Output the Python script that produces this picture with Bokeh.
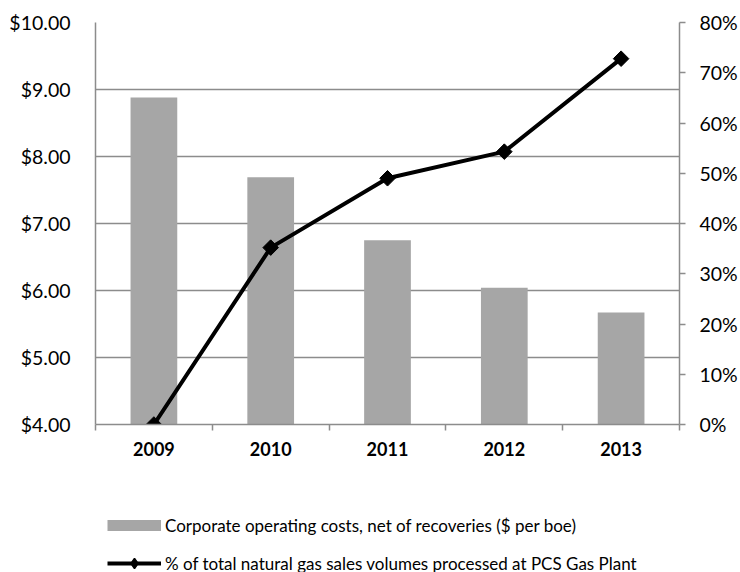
import numpy as np
from bokeh.plotting import figure
from bokeh.layouts import column
from bokeh.models import (Range1d, LinearAxis, FixedTicker, NumeralTickFormatter, Grid,
                          PrintfTickFormatter, Legend, LegendItem, ColumnDataSource)
from bokeh.embed import file_html
from bokeh.resources import INLINE

years = ["2009", "2010", "2011", "2012", "2013"]
costs = [8.88, 7.69, 6.75, 6.04, 5.67]
pct_processed = [0.0, 35.2, 49.0, 54.3, 72.8]
cost_ticks = [4, 5, 6, 7, 8, 9, 10]
pct_ticks = [0, 10, 20, 30, 40, 50, 60, 70, 80]
series_names = ["Corporate operating costs, net of recoveries ($ per boe)",
                "% of total natural gas sales volumes processed at PCS Gas Plant"]

GRAY = "#8c8c8c"
BAR = "#a6a6a6"
FONT = "Lato"

xpos = [i + 0.5 for i in range(len(years))]
src = ColumnDataSource(dict(x=xpos, year=years, cost=costs, pct=pct_processed))

p = figure(output_backend="svg", toolbar_location=None,
           frame_width=584, frame_height=402,
           min_border_left=95, min_border_right=58, min_border_top=22, min_border_bottom=50,
           x_range=Range1d(0, len(years)), y_range=Range1d(cost_ticks[0], cost_ticks[-1]),
           x_axis_type=None, y_axis_type=None)
p.outline_line_color = None
p.background_fill_color = "white"
p.border_fill_color = "white"
p.extra_y_ranges = {"pct": Range1d(pct_ticks[0], pct_ticks[-1])}

# left axis
yax = LinearAxis(ticker=FixedTicker(ticks=cost_ticks),
                 formatter=NumeralTickFormatter(format="$0.00"))
yax.axis_line_color = GRAY
yax.axis_line_width = 1.5
yax.major_tick_out = 0
yax.major_tick_in = 0
yax.minor_tick_line_color = None
yax.major_label_standoff = 25
yax.major_label_text_font = FONT
yax.major_label_text_font_size = "19.5px"
yax.major_label_text_color = "black"
p.add_layout(yax, "left")

# right axis
rax = LinearAxis(y_range_name="pct", ticker=FixedTicker(ticks=pct_ticks),
                 formatter=PrintfTickFormatter(format="%d%%"))
rax.axis_line_color = GRAY
rax.axis_line_width = 1.5
rax.major_tick_line_color = GRAY
rax.major_tick_line_width = 1.5
rax.major_tick_out = 6
rax.major_tick_in = 0
rax.minor_tick_line_color = None
rax.major_label_standoff = 14
rax.major_label_text_font = FONT
rax.major_label_text_font_size = "19.5px"
rax.major_label_text_color = "black"
p.add_layout(rax, "right")

# bottom axis
xax = LinearAxis(ticker=FixedTicker(ticks=xpos, minor_ticks=list(range(len(years) + 1))))
xax.major_label_overrides = {x: y for x, y in zip(xpos, years)}
xax.axis_line_color = GRAY
xax.axis_line_width = 1.5
xax.major_tick_out = 0
xax.major_tick_in = 0
xax.minor_tick_line_color = GRAY
xax.minor_tick_line_width = 1.5
xax.minor_tick_out = 6
xax.minor_tick_in = 0
xax.major_label_standoff = 11
xax.major_label_text_font = FONT
xax.major_label_text_font_style = "bold"
xax.major_label_text_font_size = "18px"
xax.major_label_text_color = "black"
p.add_layout(xax, "below")

# grid
g = Grid(dimension=1, ticker=yax.ticker)
g.grid_line_color = GRAY
g.grid_line_width = 1.5
p.add_layout(g)

bars = p.vbar(x="x", top="cost", bottom=cost_ticks[0], width=0.4, source=src,
              fill_color=BAR, line_color=None)
line = p.line(x="x", y="pct", source=src, y_range_name="pct",
              line_color="black", line_width=4)
pts = p.scatter(x="x", y="pct", source=src, y_range_name="pct", marker="square",
                angle=np.pi / 4, size=11, fill_color="black", line_color="black")

# legend strip below the chart (proxy renderers hold no visible data)
lg = figure(output_backend="svg", toolbar_location=None,
            width=737, height=98, min_border=0,
            x_range=Range1d(0, 1), y_range=Range1d(0, 1),
            x_axis_type=None, y_axis_type=None)
lg.outline_line_color = None
lg.xgrid.visible = False
lg.ygrid.visible = False
lg.background_fill_color = "white"
lg.border_fill_color = "white"
nan = [np.nan]
sw_bar = lg.line(x=nan, y=nan, line_color=BAR, line_width=11, line_cap="butt")
sw_line = lg.line(x=nan, y=nan, line_color="black", line_width=4)
sw_pts = lg.scatter(x=nan, y=nan, marker="diamond", size=11, line_width=1.5,
                    fill_color="black", line_color="black")

leg = Legend(items=[LegendItem(label=series_names[0], renderers=[sw_bar]),
                    LegendItem(label=series_names[1], renderers=[sw_line, sw_pts])],
             location=(12, -4), orientation="vertical",
             glyph_width=54, glyph_height=26, label_height=26, label_standoff=4,
             spacing=12, padding=0, margin=0, border_line_alpha=0, background_fill_alpha=0,
             label_text_font=FONT, label_text_font_size="17px", label_text_color="black")
lg.add_layout(leg, "center")

layout = column(p, lg, spacing=0)
open("out.html", "w").write(file_html(layout, INLINE))
